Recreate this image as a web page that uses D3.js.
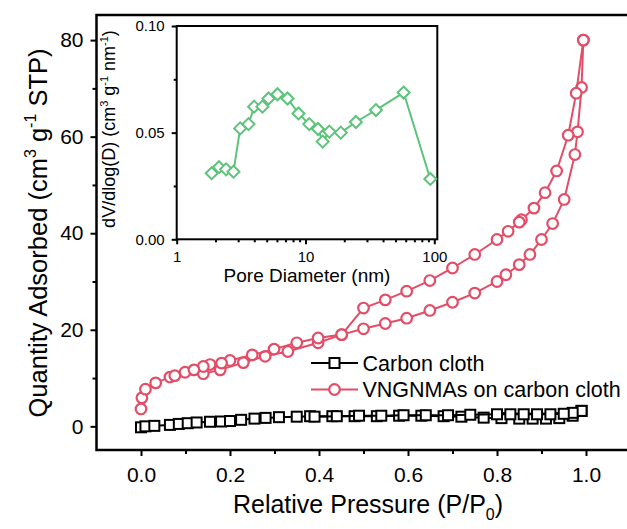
<!DOCTYPE html>
<html>
<head>
<meta charset="utf-8"/>
<script src="https://cdnjs.cloudflare.com/ajax/libs/d3/7.8.5/d3.min.js"></script>
<style>
body { margin: 0; background: #fff; }
text { font-family: Arial, "Liberation Sans", sans-serif; fill: #000; }
</style>
</head>
<body>
<script>
// carbon cloth isotherm (adsorption, then desorption)
const ccAdsP = [0.0, 0.01, 0.03, 0.065, 0.085, 0.105, 0.125, 0.155, 0.18, 0.2, 0.225, 0.255, 0.28, 0.31, 0.35, 0.38, 0.43, 0.48, 0.53, 0.58, 0.63, 0.68, 0.72, 0.77, 0.81, 0.85, 0.88, 0.91, 0.94, 0.97, 0.99];
const ccAdsQ = [-0.2, 0, 0.1, 0.3, 0.5, 0.65, 0.8, 0.95, 1.0, 1.1, 1.35, 1.6, 1.75, 1.9, 2.0, 2.1, 2.1, 2.1, 2.1, 2.2, 2.2, 2.1, 2.0, 1.8, 1.7, 1.6, 1.6, 1.6, 1.7, 2.2, 3.2];
const ccDesP = [0.99, 0.97, 0.95, 0.92, 0.89, 0.86, 0.83, 0.8, 0.74, 0.69, 0.64, 0.59, 0.54, 0.49, 0.44, 0.39];
const ccDesQ = [3.2, 2.8, 2.6, 2.5, 2.5, 2.5, 2.5, 2.5, 2.4, 2.3, 2.3, 2.3, 2.2, 2.2, 2.1, 2.0];

// VNGNMAs on carbon cloth isotherm
const vnAdsP = [0.0, 0.002, 0.01, 0.033, 0.065, 0.076, 0.099, 0.14, 0.178, 0.23, 0.279, 0.33, 0.398, 0.451, 0.5, 0.549, 0.597, 0.649, 0.70, 0.75, 0.80, 0.82, 0.85, 0.874, 0.90, 0.925, 0.951, 0.975, 0.981, 0.99, 0.994];
const vnAdsQ = [3.6, 5.9, 7.7, 9.0, 10.2, 10.5, 11.2, 10.9, 11.7, 13.2, 14.5, 15.5, 17.3, 19.0, 20.2, 21.3, 22.4, 24.0, 25.7, 27.6, 30.0, 31.4, 33.5, 35.6, 38.7, 42.0, 47.0, 56.3, 61.0, 70.2, 80.0];
const vnDesP = [0.994, 0.978, 0.96, 0.934, 0.908, 0.883, 0.855, 0.85, 0.825, 0.80, 0.75, 0.70, 0.649, 0.597, 0.549, 0.5, 0.451, 0.398, 0.35, 0.299, 0.25, 0.2, 0.181, 0.155, 0.14, 0.119];
const vnDesQ = [80.0, 69.0, 60.3, 52.9, 48.4, 45.2, 42.8, 42.3, 40.4, 38.7, 35.6, 32.8, 30.2, 28.0, 26.2, 24.5, 19.0, 18.3, 17.3, 16.0, 14.8, 13.65, 13.1, 12.8, 12.4, 11.7];

// inset: pore size distribution
const poreD = [1.87, 2.13, 2.42, 2.76, 3.11, 3.61, 3.99, 4.63, 5.16, 6.06, 7.25, 8.82, 10.7, 12.5, 13.6, 15.3, 18.8, 24.6, 35.2, 57.8, 93.1];
const poreV = [0.031, 0.0338, 0.0328, 0.0317, 0.052, 0.054, 0.0622, 0.0622, 0.066, 0.068, 0.066, 0.059, 0.054, 0.0517, 0.0458, 0.0505, 0.050, 0.055, 0.0606, 0.0688, 0.0283];

const xTicks = [0, 0.2, 0.4, 0.6, 0.8, 1.0];
const yTicks = [0, 20, 40, 60, 80];
const insetXTicks = [1, 10, 100];
const insetYTicks = [0, 0.05, 0.10];

const red = '#e44d67', green = '#5cc47a';

const svg = d3.select('body').append('svg').attr('width', 627).attr('height', 529);

const x = d3.scaleLinear().domain([-0.1, 1.1]).range([96.5, 630.5]);
const y = d3.scaleLinear().domain([-4.9, 85.2]).range([450, 15]);

// main frame
svg.append('rect')
  .attr('x', x.range()[0]).attr('y', y.range()[1])
  .attr('width', x.range()[1] - x.range()[0]).attr('height', y.range()[0] - y.range()[1])
  .attr('fill', 'none').attr('stroke', '#000').attr('stroke-width', 2.5);

// x axis
svg.append('g').attr('transform', `translate(0,${y.range()[0]})`)
  .call(d3.axisBottom(x).tickValues(xTicks).tickFormat(d3.format('.1f')).tickSize(6).tickPadding(11).tickSizeOuter(0));
svg.append('g').attr('transform', `translate(0,${y.range()[0]})`)
  .call(d3.axisBottom(x).tickValues(d3.range(0.1, 1.1, 0.2)).tickFormat('').tickSize(4).tickSizeOuter(0));
// y axis
svg.append('g').attr('transform', `translate(${x.range()[0]},0)`)
  .call(d3.axisLeft(y).tickValues(yTicks).tickSize(6).tickPadding(7).tickSizeOuter(0));
svg.append('g').attr('transform', `translate(${x.range()[0]},0)`)
  .call(d3.axisLeft(y).tickValues([10, 30, 50, 70]).tickFormat('').tickSize(4).tickSizeOuter(0));

svg.selectAll('.domain').remove();
svg.selectAll('.tick line').attr('stroke-width', 2);
svg.selectAll('.tick text').attr('font-size', 21).attr('font-family', 'Arial, "Liberation Sans", sans-serif');

// axis titles
const xt = svg.append('text').attr('x', 368).attr('y', 513).attr('text-anchor', 'middle').attr('font-size', 25);
xt.append('tspan').text('Relative Pressure (P/P');
xt.append('tspan').attr('font-size', 16).attr('dy', 7).text('0');
xt.append('tspan').attr('dy', -7).text(')');

const yt = svg.append('text').attr('transform', 'translate(47,233) rotate(-90)').attr('text-anchor', 'middle').attr('font-size', 25.5);
yt.append('tspan').text('Quantity Adsorbed (cm');
yt.append('tspan').attr('font-size', 16).attr('dy', -11).text('3');
yt.append('tspan').attr('dy', 11).text(' g');
yt.append('tspan').attr('font-size', 16).attr('dy', -11).text('-1');
yt.append('tspan').attr('dy', 11).text(' STP)');

// series
const line = d3.line().x(d => x(d[0])).y(d => y(d[1]));
function drawSeries(P, Q, color, shape) {
  const pts = P.map((p, i) => [p, Q[i]]);
  svg.append('path').datum(pts).attr('d', line)
    .attr('fill', 'none').attr('stroke', color).attr('stroke-width', 2);
  const g = svg.append('g');
  pts.forEach(d => drawMarker(g, x(d[0]), y(d[1]), color, shape));
}
function drawMarker(g, cx, cy, color, shape) {
  if (shape === 'square') {
    g.append('rect').attr('x', cx - 5).attr('y', cy - 5).attr('width', 10).attr('height', 10)
      .attr('fill', '#fff').attr('stroke', color).attr('stroke-width', 2);
  } else if (shape === 'circle') {
    g.append('circle').attr('cx', cx).attr('cy', cy).attr('r', 5.3)
      .attr('fill', '#fff').attr('stroke', color).attr('stroke-width', 2.2);
  } else {
    const s = 6;
    g.append('path').attr('d', `M${cx},${cy - s}L${cx + s},${cy}L${cx},${cy + s}L${cx - s},${cy}Z`)
      .attr('fill', '#fff').attr('stroke', color).attr('stroke-width', 2);
  }
}
drawSeries(ccAdsP, ccAdsQ, '#000', 'square');
drawSeries(ccDesP, ccDesQ, '#000', 'square');
drawSeries(vnAdsP, vnAdsQ, red, 'circle');
drawSeries(vnDesP, vnDesQ, red, 'circle');

// legend
const legend = [['Carbon cloth', '#000', 'square'], ['VNGNMAs on carbon cloth', red, 'circle']];
legend.forEach((d, i) => {
  const ly = 363 + i * 26.5;
  const g = svg.append('g');
  g.append('line').attr('x1', 311).attr('x2', 358).attr('y1', ly).attr('y2', ly)
    .attr('stroke', d[1]).attr('stroke-width', 2);
  drawMarker(g, 334.5, ly, d[1], d[2]);
  svg.append('text').attr('x', 362.5).attr('y', ly).attr('dy', '0.35em').attr('font-size', 21.5).text(d[0]);
});

// inset
const ix = d3.scaleLog().domain([1, 105.5]).range([176.7, 437.3]);
const iy = d3.scaleLinear().domain([0, 0.1]).range([239.3, 26]);
const inset = svg.append('g');
inset.append('rect')
  .attr('x', ix.range()[0]).attr('y', iy.range()[1])
  .attr('width', ix.range()[1] - ix.range()[0]).attr('height', iy.range()[0] - iy.range()[1])
  .attr('fill', '#fff').attr('stroke', '#000').attr('stroke-width', 2);

const minorLog = [2, 3, 4, 5, 6, 7, 8, 9, 20, 30, 40, 50, 60, 70, 80, 90];
inset.append('g').attr('transform', `translate(0,${iy.range()[0]})`)
  .call(d3.axisBottom(ix).tickValues(insetXTicks).tickFormat(d3.format('d')).tickSize(5).tickPadding(7).tickSizeOuter(0));
inset.append('g').attr('transform', `translate(0,${iy.range()[0]})`)
  .call(d3.axisBottom(ix).tickValues(minorLog).tickFormat('').tickSize(3).tickSizeOuter(0));
inset.append('g').attr('transform', `translate(${ix.range()[0]},0)`)
  .call(d3.axisLeft(iy).tickValues(insetYTicks).tickFormat(d3.format('.2f')).tickSize(5).tickPadding(7).tickSizeOuter(0));
inset.append('g').attr('transform', `translate(${ix.range()[0]},0)`)
  .call(d3.axisLeft(iy).tickValues([0.025, 0.075]).tickFormat('').tickSize(3).tickSizeOuter(0));
inset.selectAll('.domain').remove();
inset.selectAll('.tick line').attr('stroke-width', 2);
inset.selectAll('.tick text').attr('font-size', 15).attr('font-family', 'Arial, "Liberation Sans", sans-serif');

const ipts = poreD.map((d, i) => [d, poreV[i]]);
inset.append('path').datum(ipts)
  .attr('d', d3.line().x(d => ix(d[0])).y(d => iy(d[1])))
  .attr('fill', 'none').attr('stroke', green).attr('stroke-width', 2);
ipts.forEach(d => drawMarker(inset, ix(d[0]), iy(d[1]), green, 'diamond'));

inset.append('text').attr('x', 307).attr('y', 282).attr('text-anchor', 'middle').attr('font-size', 19)
  .text('Pore Diameter (nm)');
const it = inset.append('text').attr('transform', 'translate(115,129) rotate(-90)').attr('text-anchor', 'middle').attr('font-size', 18);
it.append('tspan').text('dV/dlog(D) (cm');
it.append('tspan').attr('font-size', 11).attr('dy', -7).text('3');
it.append('tspan').attr('dy', 7).text(' g');
it.append('tspan').attr('font-size', 11).attr('dy', -7).text('-1');
it.append('tspan').attr('dy', 7).text(' nm');
it.append('tspan').attr('font-size', 11).attr('dy', -7).text('-1');
it.append('tspan').attr('dy', 7).text(')');
</script>
</body>
</html>
